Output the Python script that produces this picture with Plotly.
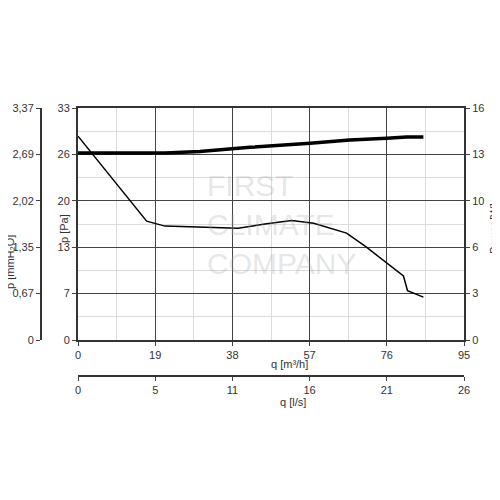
import plotly.graph_objects as go
import numpy as np

q_p = [0, 16.9, 21.4, 30, 39.4, 46, 52.6, 58, 66.1, 71, 76, 80.1, 81.1, 85]
p_pa = [29.0, 16.9, 16.2, 16.1, 15.9, 16.5, 17.0, 16.6, 15.2, 13.2, 10.9, 9.1, 7.0, 6.1]
q_w = [0, 21.4, 30, 42.3, 57.1, 66.9, 76, 80.9, 85]
pw = [12.9, 12.9, 13.0, 13.29, 13.57, 13.79, 13.91, 14.0, 14.0]
pa_labels = ["0", "7", "13", "20", "26", "33"]
mm_labels = ["0", "0,67", "1,35", "2,02", "2,69", "3,37"]
w_labels = ["0", "3", "6", "10", "13", "16"]
qm_labels = ["0", "19", "38", "57", "76", "95"]
ql_labels = ["0", "5", "11", "16", "21", "26"]

F = dict(family="Liberation Sans, Arial", size=11, color="#333")
L, R, T, B = 26, 44, 100, 108
W = 500 - L - R
H = 500 - T - B
x0 = (70 - L) / W
y0 = (392 - 332) / H
OFF = 8  # page renders with an 8px offset

def px(x):
    return (x - OFF - L) / W

def py(y):
    return (500 - B - (y - OFF)) / H

fig = go.Figure()
fig.add_trace(go.Scatter(x=q_w, y=pw, mode="lines", line=dict(color="black", width=3.5), yaxis="y2", showlegend=False))
fig.add_trace(go.Scatter(x=q_p, y=p_pa, mode="lines", line=dict(color="black", width=1.5), showlegend=False))
fig.add_trace(go.Scatter(x=[0], y=[0], yaxis="y3", mode="markers", marker=dict(opacity=0), showlegend=False))
fig.add_trace(go.Scatter(x=[0], y=[0], xaxis="x2", mode="markers", marker=dict(opacity=0), showlegend=False))

common = dict(showline=True, linecolor="#333", linewidth=2, ticks="outside", ticklen=4,
              zeroline=False, automargin=False)
fig.update_layout(
    width=500, height=500, margin=dict(l=L, r=R, t=T, b=B, autoexpand=False),
    paper_bgcolor="white", plot_bgcolor="white", font=F,
    xaxis=dict(domain=[x0, 1], range=[0, 95], tickvals=list(np.linspace(0, 95, 6)), ticktext=qm_labels,
               minor=dict(tickvals=list(np.arange(9.5, 95, 19)), showgrid=True, gridcolor="#dcdcdc"),
               showgrid=True, gridcolor="#444", mirror=True, **common),
    xaxis2=dict(domain=[x0, 1], range=[0, 26.39], anchor="free", overlaying="x", side="bottom",
                position=(392 - 368) / H, tickvals=list(np.linspace(0, 26.39, 6)), ticktext=ql_labels,
                showgrid=False, **common),
    yaxis=dict(domain=[y0, 1], range=[0, 33], tickvals=list(np.linspace(0, 33, 6)), ticktext=pa_labels,
               minor=dict(tickvals=list(np.arange(3.3, 33, 6.6)), showgrid=True, gridcolor="#dcdcdc"),
               showgrid=True, gridcolor="#444", **common),
    yaxis2=dict(domain=[y0, 1], range=[0, 16], overlaying="y", side="right", anchor="x",
                tickvals=list(np.linspace(0, 16, 6)), ticktext=w_labels, showgrid=False, **common),
    yaxis3=dict(domain=[y0, 1], range=[0, 3.37], overlaying="y", anchor="free", side="left",
                position=(33 - L) / W, tickvals=list(np.linspace(0, 3.37, 6)), ticktext=mm_labels,
                showgrid=False, **common),
)
titles = [("p [mmH₂O]", 10, 262, -90), ("p [Pa]", 64, 229, -90), ("Power [W]", 494, 228, -90),
          ("q [m³/h]", 289, 364, 0), ("q [l/s]", 293, 402, 0)]
for txt, x, y, ang in titles:
    fig.add_annotation(xref="paper", yref="paper", x=px(x), y=py(y), text=txt, showarrow=False,
                       textangle=ang, font=F, xanchor="center", yanchor="middle")
fig.add_annotation(xref="x", yref="y", x=50, y=16.5, text="FIRST<br>CLIMATE<br>COMPANY", showarrow=False,
                   font=dict(family="Liberation Sans", size=30, color="rgba(170,170,170,0.3)"), align="left")
fig.write_html("out.html")
